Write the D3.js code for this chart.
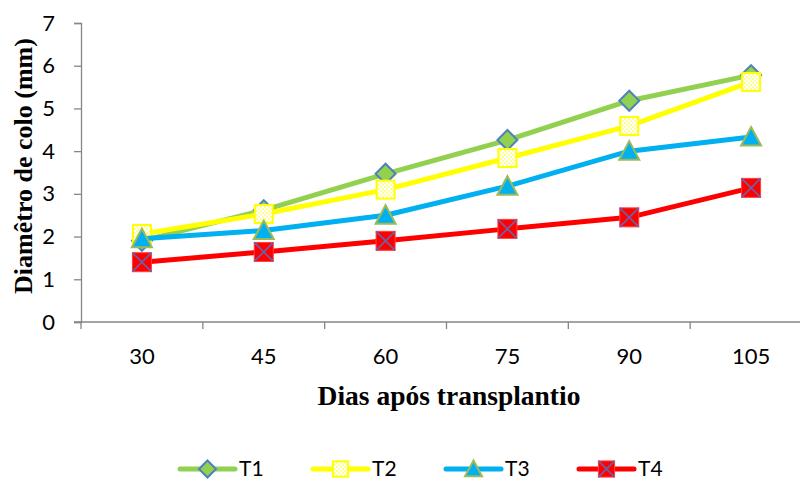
<!DOCTYPE html>
<html>
<head>
<meta charset="utf-8">
<script src="https://cdn.jsdelivr.net/npm/d3@7"></script>
<style>
  html, body { margin: 0; padding: 0; background: #fff; overflow: hidden; }
  svg { display: block; }
</style>
</head>
<body>
<svg id="chart" width="800" height="482"></svg>
<script>
// Days after transplanting (x categories)
const days = ["30", "45", "60", "75", "90", "105"];
// Stem diameter (mm) per treatment
const t1 = [1.90, 2.62, 3.47, 4.26, 5.18, 5.78];
const t2 = [2.06, 2.53, 3.10, 3.84, 4.59, 5.62];
const t3 = [1.95, 2.14, 2.50, 3.18, 4.00, 4.33];
const t4 = [1.40, 1.64, 1.90, 2.18, 2.45, 3.14];
const seriesNames = ["T1", "T2", "T3", "T4"];
const yTicks = [0, 1, 2, 3, 4, 5, 6, 7];

const series = [
  { name: seriesNames[0], values: t1, color: "#92d050", marker: "diamond" },
  { name: seriesNames[1], values: t2, color: "#ffff00", marker: "square" },
  { name: seriesNames[2], values: t3, color: "#00b0f0", marker: "triangle" },
  { name: seriesNames[3], values: t4, color: "#ff0000", marker: "cross" }
];

const sansFont = "Lato, 'Liberation Sans', Arial, sans-serif";
const serifFont = "'Liberation Serif', 'Times New Roman', serif";

const svg = d3.select("#chart");
const defs = svg.append("defs");
// fine checker fill used inside the T2 squares
const pat = defs.append("pattern").attr("id", "checker")
  .attr("width", 4).attr("height", 4).attr("patternUnits", "userSpaceOnUse");
pat.append("rect").attr("width", 4).attr("height", 4).attr("fill", "#ffff99");
pat.append("rect").attr("width", 2).attr("height", 2).attr("fill", "#ffffff");
pat.append("rect").attr("x", 2).attr("y", 2).attr("width", 2).attr("height", 2).attr("fill", "#ffffff");

const plotLeft = 81, plotTop = 23, plotBottom = 322, plotRight = 812;

const x = d3.scaleBand().domain(days).range([plotLeft, plotRight]).padding(0);
const y = d3.scaleLinear().domain([0, 7]).range([plotBottom, plotTop]);
const axisColor = "#868686";

// y axis
const yAxis = svg.append("g").attr("transform", `translate(${plotLeft},0)`)
  .call(d3.axisLeft(y).tickValues(yTicks).tickSize(7).tickPadding(19).tickFormat(d3.format("d")));
yAxis.select(".domain").attr("stroke", axisColor).attr("stroke-width", 1.3);
yAxis.selectAll(".tick line").attr("stroke", axisColor).attr("stroke-width", 1.3);
yAxis.selectAll(".tick text").attr("fill", "#000")
  .style("font-family", sansFont).style("font-size", "22px");

// x axis: ticks between categories
const xAxisG = svg.append("g").attr("transform", `translate(0,${plotBottom})`);
xAxisG.append("line").attr("x1", plotLeft - 7).attr("x2", plotRight).attr("y1", 0).attr("y2", 0)
  .attr("stroke", axisColor).attr("stroke-width", 1.3);
const boundaries = days.map(d => x(d)).concat([x(days[days.length - 1]) + x.bandwidth()]);
xAxisG.selectAll("line.tk").data(boundaries).join("line").attr("class", "tk")
  .attr("x1", d => d).attr("x2", d => d).attr("y1", 0).attr("y2", 7)
  .attr("stroke", axisColor).attr("stroke-width", 1.3);
xAxisG.selectAll("text").data(days).join("text")
  .attr("x", d => x(d) + x.bandwidth() / 2).attr("y", 42)
  .attr("text-anchor", "middle")
  .style("font-family", sansFont).style("font-size", "22px")
  .text(d => d);

// axis titles
svg.append("text")
  .attr("x", 449).attr("y", 405).attr("text-anchor", "middle")
  .style("font-family", serifFont)
  .style("font-size", "27.5px").style("font-weight", "bold")
  .text("Dias após transplantio");
svg.append("text")
  .attr("transform", "translate(32,166) rotate(-90)").attr("text-anchor", "middle")
  .style("font-family", serifFont)
  .style("font-size", "26px").style("font-weight", "bold")
  .text("Diamêtro de colo (mm)");

// marker drawing
function drawMarker(g, type, cx, cy, k = 1) {
  if (type === "diamond") {
    const s = 10 * k;
    g.append("path").attr("d", `M${cx},${cy - s}L${cx + s},${cy}L${cx},${cy + s}L${cx - s},${cy}Z`)
      .attr("fill", "#92d050").attr("stroke", "#4f81bd").attr("stroke-width", 2);
  } else if (type === "square") {
    const s = 9 * k;
    g.append("rect").attr("x", cx - s).attr("y", cy - s).attr("width", 2 * s).attr("height", 2 * s)
      .attr("fill", "url(#checker)").attr("stroke", "#ffff00").attr("stroke-width", 2);
  } else if (type === "triangle") {
    const s = 10 * k;
    g.append("path").attr("d", `M${cx},${cy - s}L${cx + s},${cy + s * 0.85}L${cx - s},${cy + s * 0.85}Z`)
      .attr("fill", "#00b0f0").attr("stroke", "#9bbb59").attr("stroke-width", 2);
  } else if (type === "cross") {
    const s = 9.5 * k;
    g.append("rect").attr("x", cx - s).attr("y", cy - s).attr("width", 2 * s).attr("height", 2 * s)
      .attr("fill", "#ff0000").attr("stroke", "#ff4040").attr("stroke-width", 1);
    g.append("path").attr("d", `M${cx - s},${cy - s}L${cx + s},${cy + s}M${cx + s},${cy - s}L${cx - s},${cy + s}`)
      .attr("stroke", "#6f5fa8").attr("stroke-width", 1.7);
  }
}

const line = d3.line().x((d, i) => x(days[i]) + x.bandwidth() / 2).y(d => y(d));

series.forEach(s => {
  const g = svg.append("g");
  g.append("path").datum(s.values).attr("d", line)
    .attr("fill", "none").attr("stroke", s.color).attr("stroke-width", 5)
    .attr("stroke-linejoin", "round").attr("stroke-linecap", "round");
  s.values.forEach((v, i) => drawMarker(g, s.marker, x(days[i]) + x.bandwidth() / 2, y(v)));
});

// legend
const legendX = [180, 313, 446, 579];
const ly = 469;
series.forEach((s, i) => {
  const g = svg.append("g");
  const x0 = legendX[i];
  g.append("line").attr("x1", x0).attr("x2", x0 + 55).attr("y1", ly).attr("y2", ly)
    .attr("stroke", s.color).attr("stroke-width", 5).attr("stroke-linecap", "round");
  drawMarker(g, s.marker, x0 + 27.5, ly, 0.85);
  g.append("text").attr("x", x0 + 59).attr("y", ly + 7)
    .style("font-family", sansFont).style("font-size", "21px")
    .text(s.name);
});
</script>
</body>
</html>
